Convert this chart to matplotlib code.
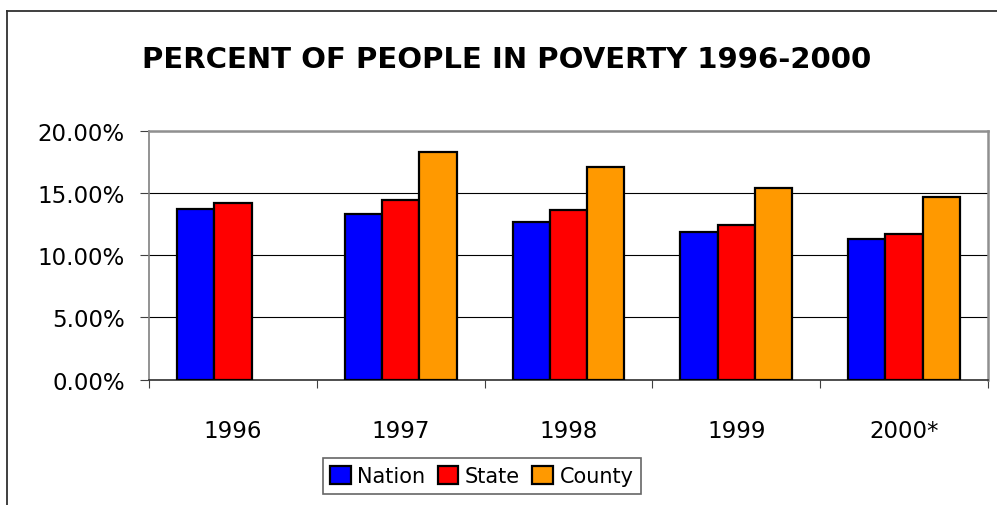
import numpy as np
import matplotlib
matplotlib.use("Agg")
import matplotlib.pyplot as plt
from matplotlib.lines import Line2D

# data (percent)
years = ['1996', '1997', '1998', '1999', '2000*']
nation = [13.7, 13.3, 12.7, 11.9, 11.3]
state = [14.2, 14.4, 13.6, 12.4, 11.7]
county = [np.nan, 18.3, 17.1, 15.4, 14.7]

series = ['Nation', 'State', 'County']
colors = ['#0000FF', '#FF0000', '#FF9900']

plt.rcParams['font.family'] = ['DejaVu Sans']

fig = plt.figure(figsize=(9.97, 5.06), dpi=100)
ax = fig.add_axes([149 / 997, 1 - 380.7 / 506, (988 - 149) / 997, (380.7 - 131.7) / 506])

# excel-style clustered bars, gap width 150%
w = 1 / 4.5
x = np.arange(len(years))
for j, (vals, name, c) in enumerate(zip([nation, state, county], series, colors)):
    ax.bar(x + (j - 1) * w, vals, width=w, color=c, edgecolor='black',
           linewidth=1.6, label=name, zorder=3)

ax.set_xlim(-0.5, len(years) - 0.5)
ax.set_ylim(0, 20)
ax.set_yticks([0, 5, 10, 15, 20])
ax.set_yticklabels(['%.2f%%' % v for v in [0, 5, 10, 15, 20]])
ax.tick_params(axis='y', direction='out', length=6.5, width=0.8, color='#404040',
               pad=11, labelsize=16.5)

# category boundaries as major ticks, labels on minor ticks
ax.set_xticks(np.arange(-0.5, len(years), 1.0))
ax.set_xticklabels([])
ax.tick_params(axis='x', which='major', direction='out', length=6, width=0.8, color='#404040')
ax.set_xticks(x, minor=True)
ax.set_xticklabels(years, minor=True)
ax.tick_params(axis='x', which='minor', length=0, pad=28, labelsize=16.5)

ax.yaxis.grid(True, color='black', linewidth=0.8, zorder=0)
ax.set_axisbelow(True)

ax.spines['left'].set_color('#808080')
ax.spines['left'].set_linewidth(1.2)
ax.spines['bottom'].set_color('#303030')
ax.spines['bottom'].set_linewidth(1.2)
for s in ['top', 'right']:
    ax.spines[s].set_color('#909090')
    ax.spines[s].set_linewidth(1.8)

fig.text(507 / 997, 1 - 60 / 506, 'PERCENT OF PEOPLE IN POVERTY 1996-2000',
         ha='center', va='center', fontsize=21, fontweight='bold')

leg = fig.legend(loc='center', bbox_to_anchor=(481.7 / 997, 1 - 477 / 506), ncol=3,
                 fontsize=15, frameon=True, fancybox=False, handlelength=1.0,
                 handleheight=1.0, handletextpad=0.3, columnspacing=0.6,
                 borderpad=0.35, borderaxespad=0)
leg.get_frame().set_edgecolor('#404040')
leg.get_frame().set_linewidth(1.2)

# outer chart border (only top and left visible in the crop)
fig.add_artist(Line2D([7 / 997, 1.0], [1 - 12 / 506, 1 - 12 / 506], color='#303030', linewidth=1.3))
fig.add_artist(Line2D([7 / 997, 7 / 997], [0.0, 1 - 12 / 506], color='#303030', linewidth=1.3))

fig.savefig('out.png', dpi=100)
